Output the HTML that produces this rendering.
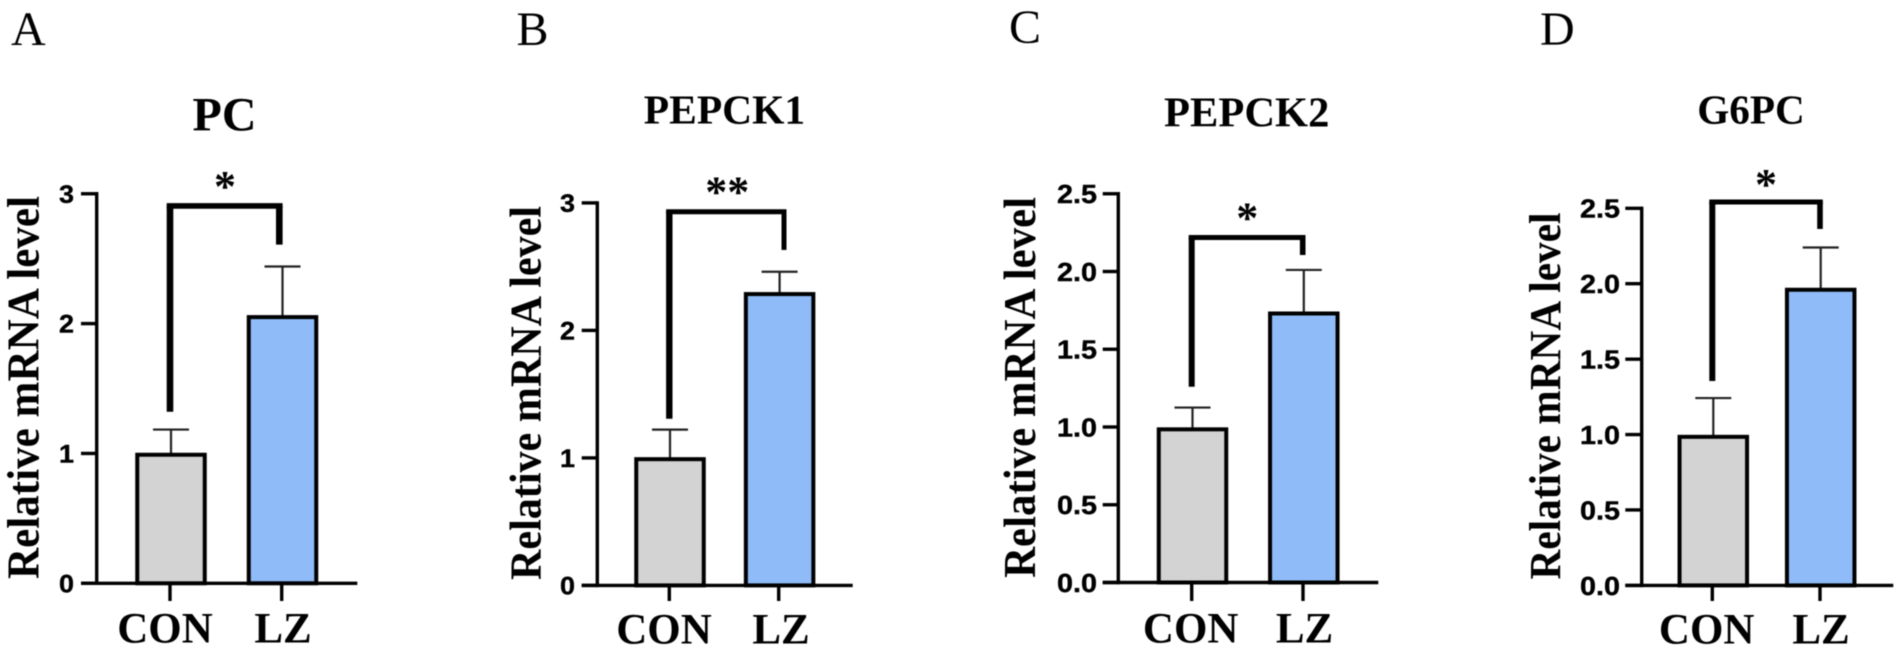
<!DOCTYPE html>
<html>
<head>
<meta charset="utf-8">
<title>Relative mRNA level of gluconeogenesis genes</title>
<style>
html,body{margin:0;padding:0;background:#fff;width:1902px;height:653px;overflow:hidden}
svg{display:block;filter:blur(0.6px)}
text{fill:#000}
.serif{font-family:"Liberation Serif","Noto Serif CJK SC",serif}
.sans{font-family:"Liberation Sans","Noto Sans CJK SC",sans-serif;font-weight:700;stroke:#000;stroke-width:0.4px}
</style>
</head>
<body>
<svg id="figure" xmlns="http://www.w3.org/2000/svg" width="1902" height="653" viewBox="0 0 1902 653"></svg>
<script>
// ---- data ----
const panelLetters = ["A", "B", "C", "D"];
const panelTitles = ["PC", "PEPCK1", "PEPCK2", "G6PC"];
const categories = ["CON", "LZ"];
const conValues = [0.99, 0.99, 0.985, 0.985];
const lzValues = [2.05, 2.285, 1.73, 1.96];
const conErrors = [0.194, 0.232, 0.14, 0.257];
const lzErrors = [0.39, 0.175, 0.28, 0.28];
const yMax = [3, 3, 2.5, 2.5];
const yTickLabelsA = ["0", "1", "2", "3"];
const yTickLabelsB = ["0", "1", "2", "3"];
const yTickLabelsC = ["0.0", "0.5", "1.0", "1.5", "2.0", "2.5"];
const yTickLabelsD = ["0.0", "0.5", "1.0", "1.5", "2.0", "2.5"];
const sigLabels = ["*", "**", "*", "*"];
const sigTopValues = [2.906, 2.931, 2.219, 2.542];
const sigLeftEnds = [1.321, 1.307, 1.259, 1.355];
const sigRightEnds = [2.608, 2.631, 2.106, 2.363];
const yAxisTitle = "Relative mRNA level";

// ---- layout (geometry of each panel, not data) ----
const layouts = [
  {axisX:96.7,  top:193.75,bottom:583.3,tickL:81,    right:357.3, cats:[171,282.5],   ticksX:[170,281.7], brL:170,   brR:279.3, brW:[5.6,6.6,6.6], star:[225,180],    letter:[11,45],  titleX:224.5,titleY:130.4, titleFs:48, ylX:38.3, ylC:387.5,ylLen:383, ylFs:45, tickR:74,   tickFs:25, tickW:15, catLab:[165,283],  catY:642.5},
  {axisX:597.3, top:202.9, bottom:585.4,tickL:581.7, right:852.7, cats:[670,779.6],   ticksX:[669.3,778.7],brL:669.3, brR:784,  brW:[5,6.4,5], star:[727.3,185.4],letter:[516.5,45],titleX:724.5,titleY:123.3, titleFs:41.5,ylX:540.7,ylC:393,ylLen:374, ylFs:44, tickR:575,  tickFs:25, tickW:15, catLab:[664,781],  catY:643.7},
  {axisX:1118.3,top:193.75,bottom:582.5,tickL:1102.7,right:1378.3,cats:[1192.5,1303.8],ticksX:[1191.7,1303],brL:1191.7,brR:1302.7,brW:[5,6,5.6],star:[1247.3,211.7],letter:[1009,43],titleX:1246.7,titleY:126.3,titleFs:42.5,ylX:1035,ylC:387.4,ylLen:381,ylFs:45,tickR:1097,tickFs:26, tickW:40, catLab:[1190.7,1304.5],catY:642.5},
  {axisX:1641.7,top:208.3, bottom:585.4,tickL:1625.3,right:1893.3,cats:[1713.3,1820.7],ticksX:[1712.3,1820],brL:1712.3,brR:1820,brW:[5,6,5.6],star:[1766,178],   letter:[1540,45],  titleX:1751, titleY:123.3, titleFs:41.2,ylX:1560, ylC:396,  ylLen:367, ylFs:44,   tickR:1620, tickFs:26, tickW:40, catLab:[1706.7,1821],catY:643.7}
];
const yTickSets = [yTickLabelsA, yTickLabelsB, yTickLabelsC, yTickLabelsD];
const barColors = ["#d3d3d3", "#8fbcf8"];
const BAR_W = 67.5, CAP_W = 36;

const svg = document.getElementById("figure");
const NS = "http://www.w3.org/2000/svg";

function mk(tag, attrs, parent) {
  const el = document.createElementNS(NS, tag);
  for (const k in attrs) el.setAttribute(k, attrs[k]);
  parent.appendChild(el);
  return el;
}
function yScale(p, v) {
  const L = layouts[p];
  return L.bottom - (v / yMax[p]) * (L.bottom - L.top);
}

function drawPanel(p) {
  const L = layouts[p];
  const g = mk("g", {}, svg);
  
  

  // panel letter
  const letter = mk("text", {x:L.letter[0], y:L.letter[1], "font-size":48, class:"serif", fill:"#222"}, g);
  letter.textContent = panelLetters[p];
  
  

  // title
  const title = mk("text", {x:L.titleX, y:L.titleY, "font-size":L.titleFs, "font-weight":700, "text-anchor":"middle", class:"serif"}, g);
  title.textContent = panelTitles[p];
  
  

  // y axis title
  const yl = mk("text", {"font-size":L.ylFs, "font-weight":700, "text-anchor":"middle", class:"serif",
    transform:"translate(" + L.ylX + "," + L.ylC + ") rotate(-90)", textLength:L.ylLen, lengthAdjust:"spacingAndGlyphs"}, g);
  yl.textContent = yAxisTitle;
  
  

  // bars, error bars
  const vals = [conValues[p], lzValues[p]];
  const errs = [conErrors[p], lzErrors[p]];
  categories.forEach(function (cat, i) {
    const cx = L.cats[i];
    const yTop = yScale(p, vals[i]);
    const yErr = yScale(p, vals[i] + errs[i]);

    const stem = mk("line", {x1:cx, x2:cx, y1:yTop, y2:yErr, stroke:"#222", "stroke-width":2.2}, g);
    
    

    const cap = mk("line", {x1:cx - CAP_W / 2, x2:cx + CAP_W / 2, y1:yErr, y2:yErr, stroke:"#222", "stroke-width":2.2}, g);
    
    

    const bar = mk("rect", {x:cx - BAR_W / 2, y:yTop, width:BAR_W, height:L.bottom - yTop, fill:barColors[i], stroke:"#000", "stroke-width":4}, g);
    
    

    const xt = mk("line", {x1:L.ticksX[i], x2:L.ticksX[i], y1:L.bottom, y2:601, stroke:"#000", "stroke-width":3.4}, g);
    
    

    const xl = mk("text", {x:L.catLab[i], y:L.catY, "font-size":43, "font-weight":700, "text-anchor":"middle", class:"serif"}, g);
    xl.textContent = cat;
    
    
  });

  // axes
  const ya = mk("line", {x1:L.axisX, x2:L.axisX, y1:L.top - 1.7, y2:L.bottom + 1.7, stroke:"#000", "stroke-width":3.4}, g);
  
  

  const xa = mk("line", {x1:L.tickL, x2:L.right, y1:L.bottom, y2:L.bottom, stroke:"#000", "stroke-width":3.4}, g);
  
  

  // y ticks
  const labels = yTickSets[p];
  labels.forEach(function (lab) {
    const y = yScale(p, parseFloat(lab));
    const t = mk("line", {x1:L.tickL, x2:L.axisX, y1:y, y2:y, stroke:"#000", "stroke-width":3.4}, g);
    
    

    const tl = mk("text", {x:L.tickR, y:y + L.tickFs * 0.36, "font-size":L.tickFs, "text-anchor":"end", class:"sans", textLength:L.tickW, lengthAdjust:"spacingAndGlyphs"}, g);
    tl.textContent = lab;
    
    
  });

  // significance bracket
  const by = yScale(p, sigTopValues[p]);
  const bl = yScale(p, sigLeftEnds[p]);
  const br = yScale(p, sigRightEnds[p]);
  const bt = mk("line", {x1:L.brL - L.brW[1] / 2, x2:L.brR + L.brW[2] / 2, y1:by, y2:by, stroke:"#000", "stroke-width":L.brW[0]}, g);
  
  

  const blL = mk("line", {x1:L.brL, x2:L.brL, y1:by, y2:bl, stroke:"#000", "stroke-width":L.brW[1]}, g);
  
  

  const brL = mk("line", {x1:L.brR, x2:L.brR, y1:by, y2:br, stroke:"#000", "stroke-width":L.brW[2]}, g);
  
  

  const st = mk("text", {x:L.star[0], y:L.star[1] + 21, "font-size":44, "font-weight":700, "text-anchor":"middle", class:"serif"}, g);
  st.textContent = sigLabels[p];
  
  
}

panelLetters.forEach(function (_, p) { drawPanel(p); });
</script>
</body>
</html>
